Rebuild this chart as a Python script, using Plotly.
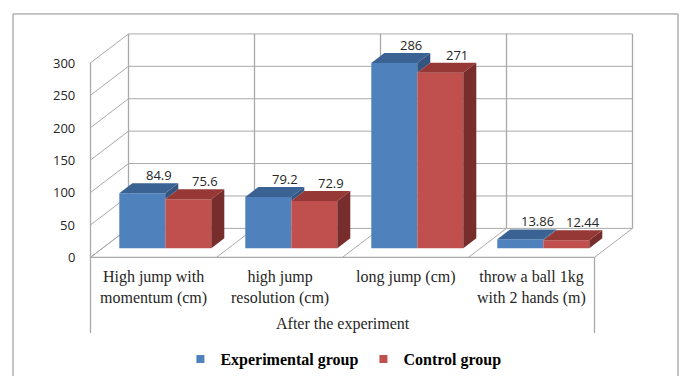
import plotly.graph_objects as go

# ---- data ----
categories = [
    "High jump with<br>momentum (cm)",
    "high jump<br>resolution (cm)",
    "long jump (cm)",
    "throw a ball 1kg<br>with 2 hands (m)",
]
group_label = "After the experiment"
series_names = ["Experimental group", "Control group"]
experimental = [84.9, 79.2, 286, 13.86]
control = [75.6, 72.9, 271, 12.44]
y_ticks = [0, 50, 100, 150, 200, 250, 300]

# ---- styling / projection constants ----
FRONT = ["#4F81BD", "#C0504D"]
TOP = ["#3A6393", "#953836"]
SIDE = ["#34557F", "#772D2B"]
GRID = "#a9a9a9"

PX_X = 126.0          # pixels per category
PX_Y = 0.65           # pixels per value unit
X0_PX = 153.5         # pixel of first category centre
Y0_PX = 258.0         # pixel of value 0 at the front edge
W_PX, H_PX = 680, 376

WALL_DX = 38 / PX_X   # full depth of the floor, projected
WALL_DY = 29 / PX_Y
BAR_DX0 = 11.8 / PX_X  # bars start a little behind the front edge
BAR_DY0 = 9 / PX_Y
BAR_DX = 13 / PX_X    # bar depth
BAR_DY = 10 / PX_Y
BAR_W = 46 / PX_X
YMAX = y_ticks[-1]
n = len(categories)

fig = go.Figure()

# ---- walls, floor and gridlines ----
shapes = []
def line(x0, y0, x1, y1, w=1.0, color=GRID):
    shapes.append(dict(type="line", x0=x0, y0=y0, x1=x1, y1=y1, xref="x", yref="y",
                       line=dict(color=color, width=w), layer="below"))

left, right = -0.5, n - 0.5
for v in y_ticks:
    # back wall horizontal
    line(left + WALL_DX, v + WALL_DY, right + WALL_DX, v + WALL_DY)
    # side wall diagonal
    line(left, v, left + WALL_DX, v + WALL_DY)
for k in range(n + 1):
    xb = left + k
    line(xb + WALL_DX, WALL_DY, xb + WALL_DX, YMAX + WALL_DY, 1.3)
    line(xb, 0, xb + WALL_DX, WALL_DY)
line(left, 0, right, 0, 1.3)
line(left, 0, left, YMAX, 1.3)
axis_bottom = (Y0_PX - 334) / PX_Y
line(left, 0, left, axis_bottom, 1.3)
line(right, 0, right, axis_bottom, 1.3)

# outer chart border
shapes.append(dict(type="rect", xref="paper", yref="paper",
                   x0=13 / W_PX, x1=678 / W_PX, y0=-0.02, y1=1 - 14 / H_PX,
                   line=dict(color="#8c8c8c", width=1), layer="below"))

# ---- bars ----
series = [experimental, control]
offsets = [-BAR_W / 2, BAR_W / 2]
annotations = []
for s, vals in enumerate(series):
    xs = [i + BAR_DX0 + offsets[s] for i in range(n)]
    fig.add_trace(go.Bar(x=xs, y=vals, base=BAR_DY0, width=BAR_W,
                         marker=dict(color=FRONT[s], line=dict(width=0)),
                         showlegend=False, hoverinfo="skip"))

for s, vals in enumerate(series):
    top_x, top_y, side_x, side_y = [], [], [], []
    for i, v in enumerate(vals):
        xc = i + BAR_DX0 + offsets[s]
        xl, xr = xc - BAR_W / 2, xc + BAR_W / 2
        yt = BAR_DY0 + v
        # right side face; the blue one only shows above the neighbouring red bar
        yb = BAR_DY0 if s == 1 else BAR_DY0 + min(v, series[1][i])
        side_x += [xr, xr + BAR_DX, xr + BAR_DX, xr, xr, None]
        side_y += [yb, yb + BAR_DY, yt + BAR_DY, yt, yb, None]
        top_x += [xl, xr, xr + BAR_DX, xl + BAR_DX, xl, None]
        top_y += [yt, yt, yt + BAR_DY, yt + BAR_DY, yt, None]
        annotations.append(dict(x=xc + BAR_DX + 0.03, y=yt + BAR_DY, text=str(v),
                                showarrow=False, yanchor="middle", yshift=8,
                                font=dict(family="Open Sans", size=13, color="#262626")))
    fig.add_trace(go.Scatter(x=side_x, y=side_y, fill="toself", mode="none",
                             fillcolor=SIDE[s], showlegend=False, hoverinfo="skip"))
    fig.add_trace(go.Scatter(x=top_x, y=top_y, fill="toself", mode="none",
                             fillcolor=TOP[s], showlegend=False, hoverinfo="skip"))

# legend entries
for s, name in enumerate(series_names):
    fig.add_trace(go.Scatter(x=[None], y=[None], mode="markers", name=name,
                             marker=dict(symbol="square", size=8, color=FRONT[s])))

# ---- text: ticks, categories, group label ----
for v in y_ticks:
    annotations.append(dict(x=left, y=v, text=str(v), showarrow=False,
                            xanchor="right", xshift=-14, yanchor="middle",
                            font=dict(family="Open Sans", size=13, color="#262626")))
label_top = (Y0_PX - 267) / PX_Y
for i, c in enumerate(categories):
    annotations.append(dict(x=i, y=label_top, text=c, showarrow=False,
                            xanchor="center", yanchor="top",
                            font=dict(family="Liberation Serif", size=16, color="#262626")))
annotations.append(dict(x=(n - 1) / 2, y=(Y0_PX - 325) / PX_Y, text=group_label,
                        showarrow=False, xanchor="center", yanchor="middle",
                        font=dict(family="Liberation Serif", size=16, color="#262626")))

fig.update_layout(
    width=W_PX, height=H_PX,
    margin=dict(l=0, r=0, t=0, b=0),
    paper_bgcolor="white", plot_bgcolor="white",
    barmode="overlay",
    shapes=shapes, annotations=annotations,
    xaxis=dict(range=[-X0_PX / PX_X, (W_PX - X0_PX) / PX_X], visible=False, fixedrange=True),
    yaxis=dict(range=[(Y0_PX - H_PX) / PX_Y, Y0_PX / PX_Y], visible=False, fixedrange=True),
    legend=dict(orientation="h", x=0.505, xanchor="center", y=(H_PX - 360) / H_PX,
                yanchor="middle", bgcolor="rgba(0,0,0,0)",
                font=dict(family="Liberation Serif", size=16, color="#000000", weight="bold"),
                itemwidth=30),
    showlegend=True,
)

fig.write_html("out.html")
